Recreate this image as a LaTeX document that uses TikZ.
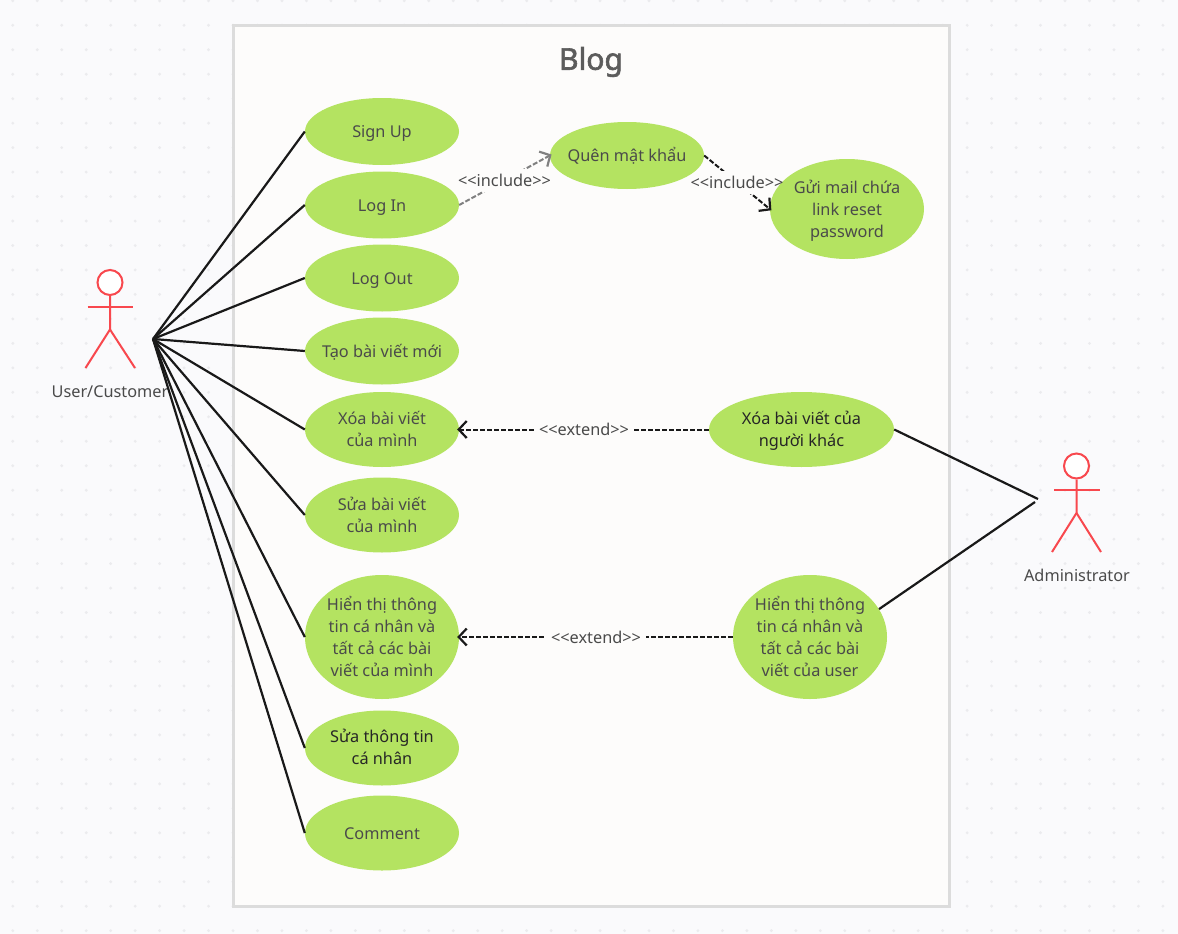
\documentclass[tikz,border=0pt]{standalone}
\usepackage{fontspec}
\setmainfont{Noto Sans}
\newfontfamily\blogfont[FakeBold=2]{Noto Sans}
\usepackage{tikz}
\usetikzlibrary{arrows.meta}
\usetikzlibrary{positioning}
\usetikzlibrary{shapes.geometric}
\definecolor{canvasbg}{HTML}{FAFAFC}
\definecolor{griddot}{HTML}{EBEBEE}
\definecolor{boxbg}{HTML}{FDFCFB}
\definecolor{boxline}{HTML}{DCDCDC}
\definecolor{usegreen}{HTML}{B4E361}
\definecolor{actorred}{HTML}{F8484E}
\definecolor{textgray}{HTML}{4A4A4A}
\tikzstyle{every node}+=[inner sep=0pt]
\tikzstyle{usecase} = [ellipse, fill=usegreen, text=textgray, font=\fontsize{16.3}{22}\selectfont, align=center, inner sep=-15pt, minimum width=154pt, minimum height=67pt]
\tikzstyle{oneline} = [text height=14pt, text depth=2pt]
\tikzstyle{darktext} = [text=black!85]
\tikzstyle{actor} = [draw=actorred, line width=2pt]
\tikzstyle{actorhead} = [circle, actor, fill=white, minimum size=25pt]
\tikzstyle{actorname} = [text=textgray, font=\fontsize{16.3}{20}\selectfont]
\tikzstyle{line} = [draw, line width=2.2pt, black!90]
\tikzstyle{dep} = [line, line width=2pt, dash pattern=on 5pt off 2pt, shorten >=-2pt, -{Straight Barb[length=8pt,width=17pt,line width=2.2pt]}]
\tikzstyle{value} = [fill=boxbg, text=textgray, font=\fontsize{16.3}{20}\selectfont, minimum height=23pt, inner xsep=5pt]
\tikzstyle{slimvalue} = [value, inner xsep=-24pt]
\begin{document}
\begin{tikzpicture}[x=1pt, y=-1pt, node distance=73pt]
            \useasboundingbox (0,0) rectangle (1178,934);
            \fill [canvasbg] (0,0) rectangle (1178,934);
            \foreach \i in {0,...,47}
              \foreach \j in {0,...,38}
                \fill [griddot] (12.8+24.47*\i,0.8+24.47*\j) circle (1.6pt);
            \draw [fill=boxbg, draw=boxline, line width=3pt] (233,26) rectangle (949,906);
            \node [text=textgray!90!white, font=\fontsize{30}{36}\blogfont] (blog) at (591,62) {Blog};
            % Place nodes
            \node [usecase, oneline] (signup) at (382,131.5) {Sign Up};
            \node [usecase, oneline, below of=signup, node distance=73.5pt] (login) {Log In};
            \node [usecase, oneline, below of=login] (logout) {Log Out};
            \node [usecase, oneline, below of=logout] (newpost) {Tạo bài viết mới};
            \node [usecase, below of=newpost, node distance=78.5pt, minimum height=75pt, text depth=2pt] (delpost) {Xóa bài viết\\của mình};
            \node [usecase, below of=delpost, node distance=85.5pt, minimum height=75pt] (editpost) {Sửa bài viết\\của mình};
            \node [usecase, below of=editpost, node distance=122pt, minimum height=124pt, text depth=2pt] (profile) {Hiển thị thông\\tin cá nhân và\\tất cả các bài\\viết của mình};
            \node [usecase, darktext, below of=profile, node distance=111pt, minimum height=75pt, text depth=2pt] (editinfo) {Sửa thông tin\\cá nhân};
            \node [usecase, oneline, below of=editinfo, node distance=85pt, minimum height=75pt] (comment) {Comment};
            \node [usecase, oneline] (forgot) at (627,155.5) {Quên mật khẩu};
            \node [usecase, minimum height=100pt, text depth=0pt] (mail) at (847,209) {Gửi mail chứa\\link reset\\password};
            \node [usecase, darktext, minimum width=185pt, minimum height=75pt, text depth=2pt] (delother) at (801.5,429.5) {Xóa bài viết của\\người khác};
            \node [usecase, minimum height=124pt, text depth=2pt] (userinfo) at (810,637) {Hiển thị thông\\tin cá nhân và\\tất cả các bài\\viết của user};
            % Actors
            \node [actorhead] (user) at (110,282.5) {};
            \draw [actor] (user.south) -- (110,329.5) -- (85.5,368);
            \draw [actor] (110,329.5) -- (135,368);
            \draw [actor] (87.5,307) -- (133,307);
            \node [actorname] (username) at (110,392) {User/Customer};
            \node [actorhead] (admin) at (1076.5,466) {};
            \draw [actor] (admin.south) -- (1076.5,513) -- (1052,552);
            \draw [actor] (1076.5,513) -- (1101,552);
            \draw [actor] (1054,490) -- (1099.5,490);
            \node [actorname] (adminname) at (1077,575) {Administrator};
            \coordinate (hub) at (153,339);
            \coordinate (adminA) at (1038,499);
            \coordinate (adminB) at (1035,502);
            % Draw edges
            \foreach \target in {signup,login,logout,newpost,delpost,editpost,profile,editinfo,comment}
              \path [line] (hub) -- (\target.west);
            \path [line] (delother.east) -- (adminA);
            \path [line] (userinfo.22) -- (adminB);
            \path [dep, black!50] (login.east) -- node [slimvalue] (inc1) {<{}<include>{}>} (forgot.west);
            \path [dep] (forgot.east) -- node [slimvalue] (inc2) {<{}<include>{}>} (mail.west);
            \path [dep] (delother.west) -- node [value] (ext1) {<{}<extend>{}>} (delpost.east);
            \path [dep] (userinfo.west) -- node [value] (ext2) {<{}<extend>{}>} (profile.east);
          \end{tikzpicture}
\end{document}
